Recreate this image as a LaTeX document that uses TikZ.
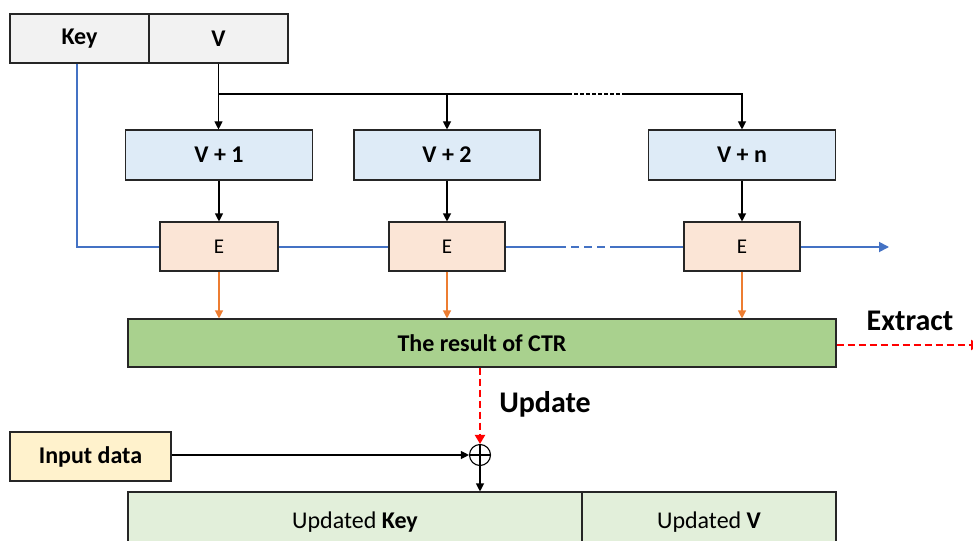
\documentclass[tikz,border=0pt]{standalone}
\usepackage{fontspec}
\setmainfont{Carlito}
\usetikzlibrary{arrows.meta,calc}
\definecolor{boxgrey}{HTML}{F2F2F2}
\definecolor{boxblue}{HTML}{DEEBF7}
\definecolor{boxpeach}{HTML}{FBE5D6}
\definecolor{boxgreen}{HTML}{A9D18E}
\definecolor{boxpale}{HTML}{E2EFDA}
\definecolor{boxyellow}{HTML}{FFF2CC}
\definecolor{keyblue}{HTML}{4472C4}
\definecolor{encorange}{HTML}{ED7D31}
\definecolor{edge}{HTML}{262626}
\tikzset{
  cell/.style={draw=edge, line width=1.1pt, inner sep=0pt, font=\fontsize{24}{26}\selectfont},
  tip/.style={-{Triangle[width=8pt,length=8pt]}},
  redtip/.style={-{Triangle[width=10pt,length=9pt]}},
  bigtip/.style={-{Triangle[width=10pt,length=10pt]}},
  link/.style={draw=black, line width=1.1pt},
  keyline/.style={draw=keyblue, line width=1.8pt},
  encline/.style={draw=encorange, line width=1.2pt},
  redline/.style={draw=red, line width=2pt, dash pattern=on 7pt off 4pt},
  caption/.style={font=\fontsize{30}{32}\selectfont\bfseries},
}
\begin{document}
\begin{tikzpicture}[x=1pt,y=-1pt]
\useasboundingbox (0,0) rectangle (973,540);
\clip (0,0) rectangle (973,540);

% key / counter input
\node[cell, fill=boxgrey, minimum width=139pt, minimum height=49pt] (key) at (79.5,38.5) {\bfseries Key};
\node[cell, fill=boxgrey, minimum width=139pt, minimum height=49pt] (v) at (218.5,38.5) {\bfseries V};

% incremented counters
\node[cell, fill=boxblue, minimum width=187pt, minimum height=50pt] (v1) at (219,155) {\bfseries V + 1};
\node[cell, fill=boxblue, minimum width=186pt, minimum height=50pt] (v2) at (447,155) {\bfseries V + 2};
\node[cell, fill=boxblue, minimum width=187pt, minimum height=50pt] (vn) at (742,155) {\bfseries V + n};

% key line runs behind the encryption blocks
\coordinate (kb) at (77,247);
\coordinate (kd1) at (558,247);
\coordinate (kd2) at (617,247);
\coordinate (kend) at (889,247);
\draw[keyline] (key.south -| kb) -- (kb) -- (kd1);
\draw[keyline, dash pattern=on 8pt off 5pt] (kd1) -- (kd2);
\draw[keyline, bigtip] (kd2) -- (kend);

% encryption blocks
\node[cell, fill=boxpeach, minimum width=118pt, minimum height=49pt] (e1) at (219,246.5) {\fontsize{21}{23}\selectfont E};
\node[cell, fill=boxpeach, minimum width=116pt, minimum height=49pt] (e2) at (447,246.5) {\fontsize{21}{23}\selectfont E};
\node[cell, fill=boxpeach, minimum width=116pt, minimum height=49pt] (e3) at (742,246.5) {\fontsize{21}{23}\selectfont E};

% counter fan-out
\coordinate (br) at (v.south |- 0,94);
\coordinate (bd1) at (568,94);
\coordinate (bd2) at (623,94);
\draw[link, tip] (v.south) -- (v1.north -| v.south);
\draw[link] (br) -- (bd1);
\draw[link, dash pattern=on 3.5pt off 2.5pt] (bd1) -- (bd2);
\draw[link, tip] (bd2) -| (vn.north);
\draw[link, tip] (v2.north |- br) -- (v2.north);

\draw[link, tip] (v1.south) -- (e1.north);
\draw[link, tip] (v2.south) -- (e2.north);
\draw[link, tip] (vn.south) -- (e3.north);

% keystream
\node[cell, fill=boxgreen, minimum width=708pt, minimum height=48pt] (ctr) at (482,343) {\bfseries The result of CTR};
\draw[encline, tip] (e1.south) -- (e1.south |- ctr.north);
\draw[encline, tip] (e2.south) -- (e2.south |- ctr.north);
\draw[encline, tip] (e3.south) -- (e3.south |- ctr.north);

% extract branch
\coordinate (xend) at (980,345);
\draw[redline, redtip] (ctr.east |- xend) -- (xend);
\node[caption] (extract) at (910,321) {Extract};

% update branch
\node[draw=black, line width=1.1pt, circle, minimum size=21pt, inner sep=0pt] (xor) at (480,455) {};
\draw[line width=1.1pt] (xor.north) -- (xor.south) (xor.west) -- (xor.east);
\draw[redline, redtip] (xor.north |- ctr.south) -- (xor.north);
\node[caption] (update) at (545,404) {Update};

\node[cell, fill=boxyellow, minimum width=161pt, minimum height=49pt] (in) at (90.5,456.5) {\bfseries Input data};
\draw[link, tip] (in.east |- xor.west) -- (xor.west);

% updated state
\node[cell, fill=boxpale, minimum width=454pt, minimum height=60pt] (ukey) at (355,522) {Updated \textbf{Key}};
\node[cell, fill=boxpale, minimum width=254pt, minimum height=60pt] (uv) at (709,522) {Updated \textbf{V}};
\draw[link, tip] (xor.south) -- (xor.south |- ukey.north);
\end{tikzpicture}
\end{document}
